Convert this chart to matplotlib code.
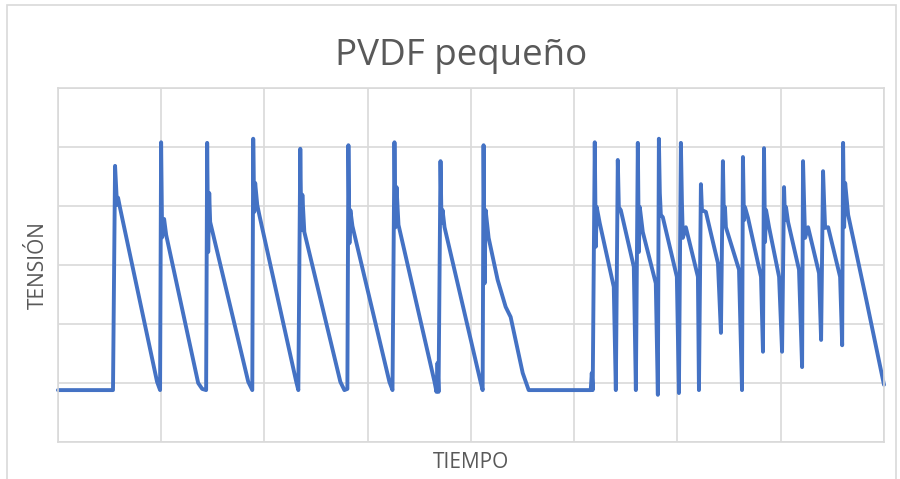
import matplotlib.pyplot as plt
from matplotlib.patches import Rectangle

# PVDF sensor response: voltage vertices over time (s, V)
tiempo = [
    0.00, 5.33, 5.53, 5.72, 5.82, 6.01, 9.60, 9.89,
    9.99, 10.09, 10.28, 10.48, 13.58, 13.97, 14.35,
    14.45, 14.55, 14.65, 14.74, 18.43, 18.82,
    18.91, 19.01, 19.10, 19.30, 19.50, 23.08, 23.28,
    23.47, 23.57, 23.67, 23.86, 27.35, 27.74, 28.03,
    28.13, 28.23, 28.32, 28.52, 32.10, 32.40,
    32.59, 32.69, 32.79, 32.98, 36.47, 36.66, 36.76, 36.86,
    37.05, 37.15, 37.25, 37.44, 40.93, 41.13,
    41.22, 41.32, 41.42, 41.71, 42.58, 42.87, 43.36, 43.84, 45.01, 45.59,
    51.60, 51.70, 51.79,
    51.99, 52.09, 52.18, 52.47, 53.83, 54.03,
    54.22, 54.32, 54.51, 55.77, 55.97,
    56.16, 56.26, 56.35, 56.64, 57.90, 58.10,
    58.20, 58.29, 58.39, 58.58, 59.94, 60.14,
    60.33, 60.43, 60.52, 60.81, 61.98, 62.08,
    62.27, 62.37, 62.75, 63.92, 64.21,
    64.40, 64.50, 64.60, 64.69, 65.96, 66.25,
    66.34, 66.44, 66.54, 66.83, 68.09, 68.28,
    68.38, 68.48, 68.58, 68.87, 69.84, 70.13,
    70.32, 70.42, 70.51, 70.71, 71.77, 72.07,
    72.16, 72.26, 72.36, 72.65, 73.71, 73.91,
    74.10, 74.20, 74.30, 74.59, 75.75, 75.95,
    76.04, 76.14, 76.24, 76.53, 78.30, 80.00,
]
tension = [
    0.88, 0.88, 4.68, 4.02, 4.14, 3.97, 1.02, 0.88,
    5.08, 3.47, 3.78, 3.51, 1.00, 0.90, 0.88,
    5.07, 3.22, 4.22, 3.73, 1.02, 0.88,
    5.14, 3.90, 4.39, 4.02, 3.85, 1.02, 0.88,
    4.97, 3.59, 4.19, 3.56, 1.02, 0.88, 0.90,
    5.03, 3.37, 3.93, 3.66, 1.02, 0.88,
    5.08, 3.64, 4.32, 3.68, 1.02, 0.85, 1.34, 0.85,
    4.76, 3.71, 3.93, 3.64, 1.02, 0.88,
    5.03, 2.69, 3.93, 3.46, 2.75, 2.58, 2.29, 2.12, 1.17, 0.88,
    0.88, 1.17, 0.88,
    5.08, 3.31, 3.98, 3.71, 2.63, 0.88,
    4.78, 3.98, 3.93, 2.97, 0.88,
    5.07, 3.22, 3.98, 3.56, 2.69, 0.80,
    5.14, 4.22, 3.85, 3.81, 2.80, 0.83,
    5.07, 4.07, 3.46, 3.64, 2.80, 0.88,
    4.37, 3.93, 3.90, 3.03, 1.85,
    4.76, 3.76, 3.98, 3.64, 2.92, 0.88,
    4.83, 3.76, 3.98, 3.80, 2.80, 1.53,
    4.98, 3.39, 3.93, 3.64, 2.80, 1.53,
    4.32, 3.76, 3.98, 3.73, 2.92, 1.27,
    4.76, 4.07, 3.46, 3.64, 2.86, 1.73,
    4.59, 4.07, 3.63, 3.64, 2.80, 1.64,
    5.07, 3.64, 4.39, 3.85, 2.40, 0.97,
]

GRID = '#d9d9d9'
TEXT = '#595959'
plt.rcParams['font.family'] = ['Open Sans', 'DejaVu Sans']

fig = plt.figure(figsize=(9, 4.79), dpi=100)
fig.patches.append(Rectangle((0.008, -0.1), 0.988, 1.09, transform=fig.transFigure,
                             fill=False, edgecolor=GRID, linewidth=1.2))

ax = fig.add_axes([0.0644, 0.0772, 0.9178, 0.7391])
ax.plot(tiempo, tension, color='#4472c4', linewidth=2.8, solid_joinstyle='round',
        solid_capstyle='round', clip_on=False)

ax.set_xlim(0, 80)
ax.set_ylim(0, 6)
ax.set_xticks(range(0, 81, 10))
ax.set_yticks(range(0, 7))
ax.grid(True, color=GRID, linewidth=1.2)
ax.set_axisbelow(True)
ax.tick_params(length=0, labelbottom=False, labelleft=False)
for s in ax.spines.values():
    s.set_color(GRID)
    s.set_linewidth(1.2)

fig.text(0.512, 0.864, 'PVDF pequeño', ha='center', va='baseline', fontsize=26.5,
         color=TEXT)
fig.text(0.523, 0.022, 'TIEMPO', ha='center', va='baseline', fontsize=15, color=TEXT)
fig.text(0.043, 0.447, 'TENSIÓN', ha='center', va='center', fontsize=15, color=TEXT,
         rotation=90)

fig.savefig('out.png', dpi=100)
